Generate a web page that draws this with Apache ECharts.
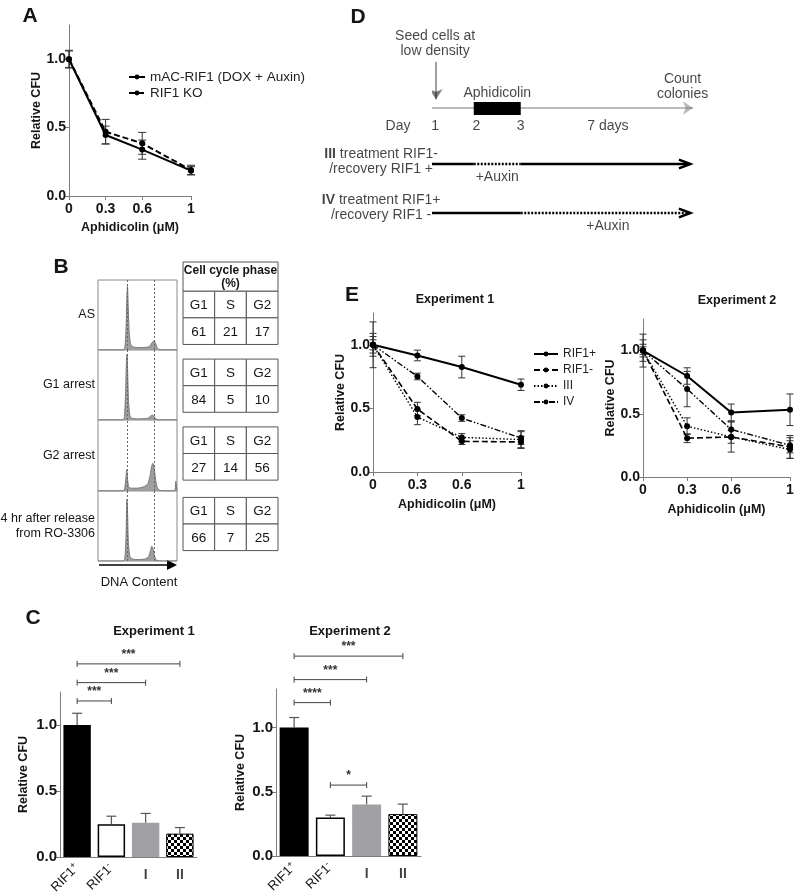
<!DOCTYPE html>
<html>
<head>
<meta charset="utf-8">
<script src="https://cdn.jsdelivr.net/npm/echarts@6/dist/echarts.min.js"></script>
<style>
html, body { margin: 0; padding: 0; background: #fff; }
#chart { width: 798px; height: 896px; }
</style>
</head>
<body>
<div id="chart"></div>
<script>
const FONT = '"Liberation Sans", Arial, Helvetica, sans-serif';
const AX = '#7d7d7d';
const INK = '#151515';

// ---- Panel A: colony survival after aphidicolin ----
const aDoses = [0, 0.3, 0.6, 1];
const aRif1Mean = [1.0, 0.446, 0.339, 0.185];
const aRif1Err = [0.065, 0.065, 0.07, 0.03];
const aKoMean = [1.0, 0.47, 0.385, 0.19];
const aKoErr = [0.06, 0.09, 0.08, 0.035];

// ---- Panel B: DNA content histograms + phase table ----
const bConditions = ['AS', 'G1 arrest', 'G2 arrest', '4 hr after release\nfrom RO-3306'];
const bHistAS = [[0, 0], [32, 0], [34, 0.04], [35.5, 0.3], [36.5, 0.75], [37.3, 0.91], [38.3, 0.6], [39.5, 0.25], [41, 0.1], [43, 0.05], [50, 0.035], [58, 0.035], [64, 0.045], [67, 0.08], [69.5, 0.12], [71.2, 0.13], [73, 0.09], [75, 0.03], [78, 0.005], [85, 0], [100, 0]];
const bHistG1Arrest = [[0, 0], [32, 0], [33.5, 0.05], [35, 0.4], [36, 0.85], [36.7, 0.94], [37.5, 0.7], [38.5, 0.3], [40, 0.08], [42, 0.03], [50, 0.015], [60, 0.02], [64, 0.03], [67, 0.06], [69, 0.07], [71, 0.05], [73, 0.02], [76, 0], [100, 0]];
const bHistG2Arrest = [[0, 0], [32, 0], [34, 0.05], [35.5, 0.2], [36.3, 0.3], [37.2, 0.2], [38.5, 0.07], [41, 0.04], [50, 0.04], [58, 0.06], [63, 0.1], [66, 0.22], [68, 0.35], [69.4, 0.39], [71, 0.33], [73, 0.15], [75, 0.05], [78, 0.01], [85, 0], [97, 0], [98.5, 0.14], [99.3, 0.14], [100, 0]];
const bHistRelease = [[0, 0], [32, 0], [34, 0.04], [35.5, 0.35], [36.5, 0.88], [37.3, 0.75], [38.3, 0.3], [40, 0.08], [43, 0.03], [52, 0.02], [60, 0.03], [64, 0.06], [66.5, 0.15], [68, 0.21], [69.5, 0.18], [71.5, 0.07], [74, 0.01], [78, 0], [100, 0]];
const bHistograms = [bHistAS, bHistG1Arrest, bHistG2Arrest, bHistRelease];
const bPeakMarks = [37.5, 71.4];
const bPhaseNames = ['G1', 'S', 'G2'];
const bPhasePct = [[61, 21, 17], [84, 5, 10], [27, 14, 56], [66, 7, 25]];
const bTableTops = [1.1, 3.65, 6.2, 8.85];

// ---- Panel C: bar charts ----
const cGroups = ['RIF1+', 'RIF1-', 'I', 'II'];
const cExp1Mean = [1.0, 0.248, 0.26, 0.177];
const cExp1Err = [0.089, 0.061, 0.07, 0.046];
const cExp2Mean = [1.0, 0.30, 0.40, 0.326];
const cExp2Err = [0.078, 0.018, 0.066, 0.078];
const cExp1Sig = [[0, 3, 1.463, '***'], [0, 2, 1.321, '***'], [0, 1, 1.182, '***']];
const cExp2Sig = [[0, 3, 1.556, '***'], [0, 2, 1.373, '***'], [0, 1, 1.194, '****'], [1, 2, 0.552, '*']];

// ---- Panel D: schematic timeline (schematic units along the day axis) ----
const dTimeline = [0, 100];
const dSeedX = 1.5;
const dAphidicolin = [16, 34];
const dDayLabels = [['Day', -13], ['1', 1.2], ['2', 17], ['3', 34], ['7 days', 67.4]];
const dRowIII = [['solid', 0, 16], ['dotted', 16, 34], ['solid', 34, 99]];
const dRowIV = [['solid', 0, 34], ['dotted', 34, 99]];

// ---- Panel E: recovery experiments ----
const eNames = ['RIF1+', 'RIF1-', 'III', 'IV'];
const e1Rif1Plus = [1.0, 0.916, 0.825, 0.686];
const e1Rif1PlusErr = [0.065, 0.042, 0.085, 0.045];
const e1Rif1Minus = [1.0, 0.495, 0.241, 0.236];
const e1Rif1MinusErr = [0.18, 0.053, 0.025, 0.045];
const e1III = [1.0, 0.432, 0.272, 0.255];
const e1IIIErr = [0.09, 0.06, 0.03, 0.07];
const e1IV = [1.0, 0.751, 0.424, 0.267];
const e1IVErr = [0.04, 0.026, 0.026, 0.05];
const e2Rif1Plus = [1.0, 0.799, 0.511, 0.532];
const e2Rif1PlusErr = [0.13, 0.065, 0.066, 0.125];
const e2Rif1Minus = [1.0, 0.307, 0.317, 0.238];
const e2Rif1MinusErr = [0.085, 0.035, 0.12, 0.09];
const e2III = [1.0, 0.402, 0.317, 0.217];
const e2IIIErr = [0.05, 0.066, 0.05, 0.07];
const e2IV = [1.0, 0.696, 0.376, 0.251];
const e2IVErr = [0.03, 0.14, 0.06, 0.06];

const eLineTypes = ['solid', [6, 3], [1.5, 2], [6, 2, 1.5, 2, 1.5, 2]];
const eLineWidths = [2, 1.6, 1.4, 1.4];

const chart = echarts.init(document.getElementById('chart'), null, { renderer: 'canvas' });

const txt = (size, bold) => ({ fontFamily: FONT, fontSize: size, fontWeight: bold ? 'bold' : 'normal', color: INK });

function doseXAxis(grid, nameGap) {
    return {
        type: 'value', gridIndex: grid, min: 0, max: 1,
        name: 'Aphidicolin (μM)', nameLocation: 'middle', nameGap,
        nameTextStyle: txt(12.5, true),
        axisLine: { show: true, lineStyle: { color: AX } },
        axisTick: { show: true, customValues: aDoses, length: 4, lineStyle: { color: AX } },
        axisLabel: { customValues: aDoses, formatter: (v) => String(v), margin: 6, ...txt(14, true) },
        splitLine: { show: false },
    };
}

function cfuYAxis(grid, max, nameGap, labelSize) {
    return {
        type: 'value', gridIndex: grid, min: 0, max,
        name: 'Relative CFU', nameLocation: 'middle', nameGap,
        nameTextStyle: txt(12.5, true),
        axisLine: { show: true, lineStyle: { color: AX } },
        axisTick: { show: true, customValues: [0, 0.5, 1], length: 4, lineStyle: { color: AX } },
        axisLabel: { customValues: [0, 0.5, 1], formatter: (v) => v.toFixed(1), margin: 3, ...txt(labelSize, true) },
        splitLine: { show: false },
    };
}

function hiddenAxis(grid, min, max, inverse) {
    return { type: 'value', gridIndex: grid, min, max, inverse: !!inverse, show: false };
}

// vertical error bars with caps on both ends
function errorBars(grid, xs, means, errs, capHalf, color) {
    return {
        type: 'custom', xAxisIndex: grid, yAxisIndex: grid, z: 3,
        encode: { x: 0, y: [1, 2] },
        data: xs.map((x, i) => [x, means[i] - errs[i], means[i] + errs[i]]),
        renderItem: (params, api) => {
            const hi = api.coord([api.value(0), api.value(2)]);
            const lo = api.coord([api.value(0), api.value(1)]);
            const st = { stroke: color, lineWidth: 1 };
            return {
                type: 'group', children: [
                    { type: 'line', shape: { x1: hi[0], y1: hi[1], x2: lo[0], y2: lo[1] }, style: st },
                    { type: 'line', shape: { x1: hi[0] - capHalf, y1: hi[1], x2: hi[0] + capHalf, y2: hi[1] }, style: st },
                    { type: 'line', shape: { x1: lo[0] - capHalf, y1: lo[1], x2: lo[0] + capHalf, y2: lo[1] }, style: st },
                ],
            };
        },
    };
}

function doseLine(grid, name, means, type, width) {
    return {
        type: 'line', name, xAxisIndex: grid, yAxisIndex: grid, z: 4,
        data: aDoses.map((d, i) => [d, means[i]]),
        symbol: 'circle', symbolSize: 6, showSymbol: true,
        itemStyle: { color: '#000' },
        lineStyle: { color: '#000', width, type },
    };
}

// ---------- grids ----------
const grids = [
    { left: 69, top: 25, width: 122, height: 171 },                 // 0 A
    { left: 98, top: 280, width: 79, height: 70 },                  // 1-4 B histograms
    { left: 98, top: 350, width: 79, height: 70 },
    { left: 98, top: 420, width: 79, height: 71 },
    { left: 98, top: 491, width: 79, height: 70 },
    { left: 183, top: 262, width: 95, height: 288.6 },              // 5 B tables
    { left: 60, top: 692, width: 137, height: 165 },                // 6 C exp 1
    { left: 276, top: 689, width: 145, height: 167 },               // 7 C exp 2
    { left: 432, top: 0, width: 261, height: 240 },                 // 8 D
    { left: 373, top: 313, width: 148, height: 159 },               // 9 E exp 1
    { left: 643, top: 319, width: 147, height: 158 },               // 10 E exp 2
];
grids.forEach((g, i) => {
    g.outerBoundsMode = 'none';
    if (i >= 1 && i <= 4) Object.assign(g, { show: true, borderColor: '#8a8a8a', borderWidth: 1, backgroundColor: '#fff' });
});

const xAxes = [];
const yAxes = [];

// A
xAxes.push(doseXAxis(0, 25));
yAxes.push(cfuYAxis(0, 1.25, 25, 14));
// B histograms
bConditions.forEach((c, i) => {
    xAxes.push(hiddenAxis(i + 1, 0, 100));
    yAxes.push({
        type: 'value', gridIndex: i + 1, min: 0, max: 1,
        name: c, nameLocation: 'middle', nameRotate: 0, nameGap: 3,
        nameTextStyle: { ...txt(12.5, false), lineHeight: 15 },
        axisLine: { show: false }, axisTick: { show: false }, axisLabel: { show: false }, splitLine: { show: false },
    });
});
// B tables
xAxes.push(hiddenAxis(5, 0, 3));
yAxes.push(hiddenAxis(5, 0, 10.85, true));
// C
[6, 7].forEach((g) => {
    xAxes.push({
        type: 'category', gridIndex: g, data: cGroups,
        axisLine: { show: true, lineStyle: { color: AX } },
        axisTick: { show: false },
        axisLabel: {
            interval: 0, rotate: 45, margin: 9, ...txt(13, false),
            formatter: (v) => (v.startsWith('RIF1') ? 'RIF1{sup|' + v.slice(4) + '}' : ''),
            rich: { sup: { ...txt(9, false), verticalAlign: 'top', padding: [0, 0, 7, 0] } },
        },
    });
});
yAxes.push(cfuYAxis(6, 1.25, 30, 15));
yAxes.push(cfuYAxis(7, 1.3, 29, 15));
// D
xAxes.push(hiddenAxis(8, 0, 100));
yAxes.push(hiddenAxis(8, -1.5, 4.5, true));
// E
xAxes.push(doseXAxis(9, 26));
yAxes.push(cfuYAxis(9, 1.25, 22, 14));
xAxes.push(doseXAxis(10, 26));
yAxes.push(cfuYAxis(10, 1.25, 21, 14));

// ---------- series ----------
const series = [];

// A
series.push(errorBars(0, aDoses, aRif1Mean, aRif1Err, 4, '#333'));
series.push(errorBars(0, aDoses, aKoMean, aKoErr, 4, '#333'));
series.push(doseLine(0, 'mAC-RIF1 (DOX + Auxin)', aRif1Mean, 'solid', 2));
series.push(doseLine(0, 'RIF1 KO', aKoMean, [6, 3], 2));

// B histograms
bHistograms.forEach((h, i) => {
    series.push({
        type: 'line', xAxisIndex: i + 1, yAxisIndex: i + 1,
        data: h, showSymbol: false, smooth: 0.2,
        lineStyle: { color: '#777', width: 1 },
        areaStyle: { color: '#9e9e9e', opacity: 1 },
        markLine: {
            silent: true, symbol: 'none', label: { show: false },
            lineStyle: { color: '#666', type: [2, 2], width: 1 },
            data: bPeakMarks.map((x) => ({ xAxis: x })),
        },
    });
});

// B tables
const tableCells = [[0, 3, 0, bTableTops[0], 'Cell cycle phase\n(%)', true]];
bPhasePct.forEach((row, t) => {
    const top = bTableTops[t];
    bPhaseNames.forEach((p, c) => {
        tableCells.push([c, c + 1, top, top + 1, p, false]);
        tableCells.push([c, c + 1, top + 1, top + 2, String(row[c]), false]);
    });
});
series.push({
    type: 'custom', xAxisIndex: 5, yAxisIndex: 5,
    encode: { x: [0, 1], y: [2, 3] },
    data: tableCells.map((c) => c.slice(0, 4)),
    renderItem: (params, api) => {
        const cell = tableCells[params.dataIndex];
        const p0 = api.coord([api.value(0), api.value(2)]);
        const p1 = api.coord([api.value(1), api.value(3)]);
        return {
            type: 'group', children: [
                { type: 'rect', shape: { x: p0[0], y: p0[1], width: p1[0] - p0[0], height: p1[1] - p0[1] }, style: { fill: '#fff', stroke: '#555', lineWidth: 1 } },
                {
                    type: 'text', style: {
                        text: cell[4], x: (p0[0] + p1[0]) / 2, y: (p0[1] + p1[1]) / 2 + 1, align: 'center', verticalAlign: 'middle',
                        fontFamily: FONT, fontSize: cell[5] ? 12 : 13.5, fontWeight: cell[5] ? 'bold' : 'normal', lineHeight: 13, fill: INK,
                    },
                },
            ],
        };
    },
});

// C bars
const checker = (() => {
    const c = document.createElement('canvas');
    c.width = 6; c.height = 6;
    const g = c.getContext('2d');
    g.fillStyle = '#fff'; g.fillRect(0, 0, 6, 6);
    g.fillStyle = '#000'; g.fillRect(0, 0, 3, 3); g.fillRect(3, 3, 3, 3);
    return c;
})();
const cBarStyles = [
    { color: '#000' },
    { color: '#fff', borderColor: '#000', borderWidth: 1.5 },
    { color: '#a1a1a5' },
    { color: { image: checker, repeat: 'repeat' }, borderColor: '#000', borderWidth: 1 },
];

function sigBrackets(grid, sig) {
    return {
        type: 'custom', xAxisIndex: grid, yAxisIndex: grid, z: 5, clip: false,
        encode: { x: [0, 1], y: 2 },
        data: sig.map((s) => s.slice(0, 3)),
        renderItem: (params, api) => {
            const a = api.coord([api.value(0), api.value(2)]);
            const b = api.coord([api.value(1), api.value(2)]);
            const st = { stroke: '#444', lineWidth: 1 };
            return {
                type: 'group', children: [
                    { type: 'line', shape: { x1: a[0], y1: a[1], x2: b[0], y2: b[1] }, style: st },
                    { type: 'line', shape: { x1: a[0], y1: a[1] - 3, x2: a[0], y2: a[1] + 3 }, style: st },
                    { type: 'line', shape: { x1: b[0], y1: b[1] - 3, x2: b[0], y2: b[1] + 3 }, style: st },
                    {
                        type: 'text', style: {
                            text: sig[params.dataIndex][3], x: (a[0] + b[0]) / 2, y: a[1] - 3, align: 'center', verticalAlign: 'bottom',
                            fontFamily: FONT, fontSize: 12, fontWeight: 'bold', fill: '#333',
                        },
                    },
                ],
            };
        },
    };
}

[[6, cExp1Mean, cExp1Err, cExp1Sig], [7, cExp2Mean, cExp2Err, cExp2Sig]].forEach(([g, mean, err, sig]) => {
    series.push({
        type: 'bar', xAxisIndex: g, yAxisIndex: g, barWidth: '80%', z: 2,
        data: mean.map((v, i) => ({ value: v, itemStyle: cBarStyles[i] })),
    });
    series.push({
        type: 'custom', xAxisIndex: g, yAxisIndex: g, z: 1,
        encode: { x: 0, y: [1, 2] },
        data: mean.map((v, i) => [i, v, v + err[i]]),
        renderItem: (params, api) => {
            const top = api.coord([api.value(0), api.value(2)]);
            const base = api.coord([api.value(0), api.value(1)]);
            const st = { stroke: '#555', lineWidth: 1.2 };
            return {
                type: 'group', children: [
                    { type: 'line', shape: { x1: top[0], y1: top[1], x2: base[0], y2: base[1] }, style: st },
                    { type: 'line', shape: { x1: top[0] - 5, y1: top[1], x2: top[0] + 5, y2: top[1] }, style: st },
                ],
            };
        },
    });
    series.push(sigBrackets(g, sig));
    // upright labels for groups I and II
    series.push({
        type: 'scatter', xAxisIndex: g, yAxisIndex: g, symbolSize: 0, silent: true, clip: false,
        data: [2, 3].map((i) => [i, 0]),
        label: { show: true, position: 'bottom', distance: 11, formatter: (p) => cGroups[p.value[0]], ...txt(14, true) },
    });
});

// D schematic
const dTexts = [
    { value: [dSeedX - 0.3, -0.4], text: 'Seed cells at\nlow density' },
    { value: [25, 0.82], text: 'Aphidicolin' },
    { value: [96, 0.66], text: 'Count\ncolonies' },
    ...dDayLabels.map(([t, x]) => ({ value: [x, 1.65], text: t })),
    { value: [-19.5, 2.54], text: '{b|III} treatment RIF1-\n/recovery RIF1 +' },
    { value: [25, 2.92], text: '+Auxin' },
    { value: [-19.5, 3.7], text: '{b|IV} treatment RIF1+\n/recovery RIF1 -' },
    { value: [67.4, 4.15], text: '+Auxin' },
];
series.push({
    type: 'scatter', xAxisIndex: 8, yAxisIndex: 8, symbolSize: 0, silent: true, clip: false,
    data: dTexts.map((d) => ({ value: d.value, label: { formatter: d.text } })),
    label: {
        show: true, position: 'inside', align: 'center', verticalAlign: 'middle', lineHeight: 15, ...txt(14, false),
        rich: { b: { ...txt(14, true) } },
    },
});
series.push({
    type: 'lines', coordinateSystem: 'cartesian2d', xAxisIndex: 8, yAxisIndex: 8, silent: true,
    symbol: ['none', 'arrow'], symbolSize: 10,
    data: [
        { coords: [[dTimeline[0], 1.2], [dTimeline[1], 1.2]], lineStyle: { color: '#777', width: 2 } },
        { coords: [[dSeedX, 0.05], [dSeedX, 0.98]], lineStyle: { color: '#000', width: 1.5 } },
    ],
});
series.push({
    type: 'custom', xAxisIndex: 8, yAxisIndex: 8, z: 4,
    encode: { x: [0, 1], y: [2, 3] },
    data: [[dAphidicolin[0], dAphidicolin[1], 1.05, 1.375]],
    renderItem: (params, api) => {
        const p0 = api.coord([api.value(0), api.value(2)]);
        const p1 = api.coord([api.value(1), api.value(3)]);
        return { type: 'rect', shape: { x: p0[0], y: p0[1], width: p1[0] - p0[0], height: p1[1] - p0[1] }, style: { fill: '#000' } };
    },
});
[[dRowIII, 2.6], [dRowIV, 3.825]].forEach(([row, y]) => {
    row.forEach(([kind, x0, x1]) => {
        series.push({
            type: 'line', xAxisIndex: 8, yAxisIndex: 8, showSymbol: false, silent: true,
            data: [[x0, y], [x1, y]],
            lineStyle: { color: '#000', width: 2.5, type: kind === 'dotted' ? [2, 1.5] : 'solid' },
        });
    });
    const tip = row[row.length - 1][2];
    series.push({
        type: 'line', xAxisIndex: 8, yAxisIndex: 8, showSymbol: false, silent: true,
        data: [[tip - 4.4, y - 0.11], [tip, y], [tip - 4.4, y + 0.11]],
        lineStyle: { color: '#000', width: 2.5, join: 'miter' },
    });
});

// E
const e1Means = [e1Rif1Plus, e1Rif1Minus, e1III, e1IV];
const e1Errs = [e1Rif1PlusErr, e1Rif1MinusErr, e1IIIErr, e1IVErr];
const e2Means = [e2Rif1Plus, e2Rif1Minus, e2III, e2IV];
const e2Errs = [e2Rif1PlusErr, e2Rif1MinusErr, e2IIIErr, e2IVErr];
[[9, e1Means, e1Errs], [10, e2Means, e2Errs]].forEach(([g, means, errs]) => {
    means.forEach((m, k) => series.push(errorBars(g, aDoses, m, errs[k], 3.5, '#333')));
    means.forEach((m, k) => series.push(doseLine(g, eNames[k], m, eLineTypes[k], eLineWidths[k])));
});

// ---------- text annotations ----------
const label = (text, x, y, font, align) => ({
    type: 'text', x, y, silent: true,
    style: { text, font, fill: INK, align: align || 'center', verticalAlign: 'middle' },
});
const graphic = [
    label('A', 30, 16, 'bold 21px ' + FONT),
    label('B', 61, 267, 'bold 21px ' + FONT),
    label('C', 33, 618, 'bold 21px ' + FONT),
    label('D', 358, 17, 'bold 21px ' + FONT),
    label('E', 352, 295, 'bold 21px ' + FONT),
    label('Experiment 1', 154, 631, 'bold 13px ' + FONT),
    label('Experiment 2', 350, 631, 'bold 13px ' + FONT),
    label('Experiment 1', 455, 300, 'bold 12.5px ' + FONT),
    label('Experiment 2', 737, 301, 'bold 12.5px ' + FONT),
    label('DNA Content', 139, 582, '13px ' + FONT),
    { type: 'line', silent: true, shape: { x1: 99, y1: 565, x2: 168, y2: 565 }, style: { stroke: '#000', lineWidth: 1.5 } },
    { type: 'polygon', silent: true, shape: { points: [[167, 560], [177, 565], [167, 570]] }, style: { fill: '#000' } },
];

chart.setOption({
    animation: false,
    backgroundColor: '#fff',
    textStyle: { fontFamily: FONT },
    grid: grids,
    xAxis: xAxes,
    yAxis: yAxes,
    legend: [
        {
            left: 123, top: 65, orient: 'vertical', itemWidth: 16, itemHeight: 6, itemGap: 2,
            data: ['mAC-RIF1 (DOX + Auxin)', 'RIF1 KO'],
            textStyle: { ...txt(13.5, false), color: '#222' },
        },
        {
            left: 528, top: 343, orient: 'vertical', itemWidth: 24, itemHeight: 6, itemGap: 4,
            data: eNames,
            textStyle: { ...txt(12, false), color: '#222' },
        },
    ],
    graphic,
    series,
});
</script>
</body>
</html>
